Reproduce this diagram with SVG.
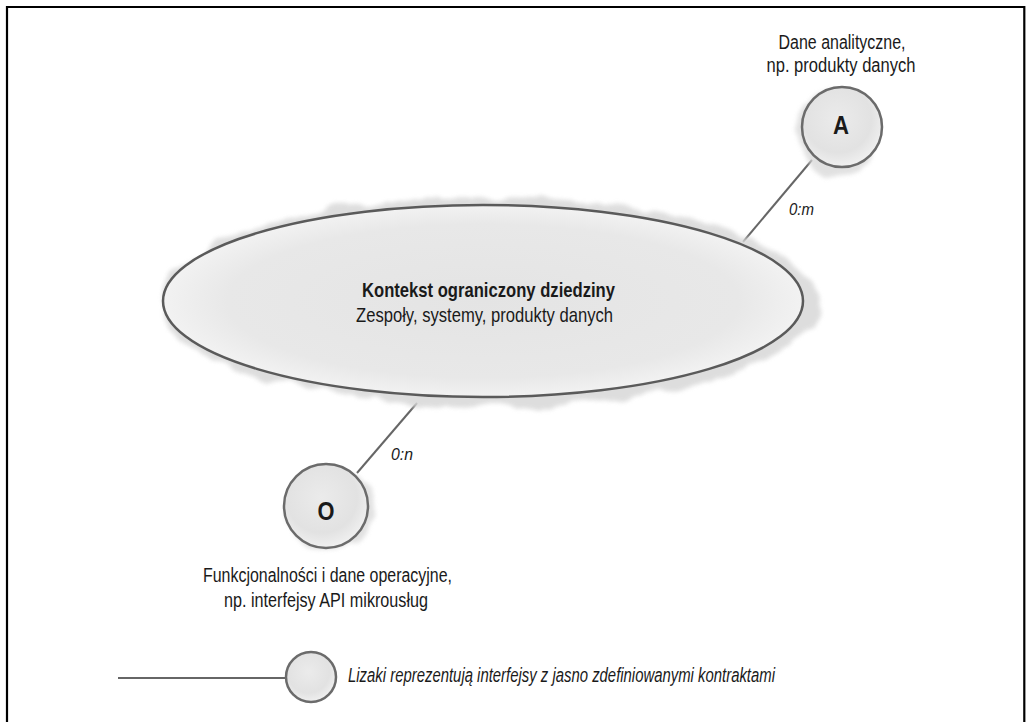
<svg xmlns="http://www.w3.org/2000/svg" width="1026" height="722" viewBox="0 0 1026 722">
  <style>
    .t { font-family: "Liberation Sans", "Open Sans", sans-serif; fill: #1a1a1a; }
    .lbl { font-size: 20px; }
    .title { font-size: 21px; font-weight: bold; }
    .sub { font-size: 21px; }
    .it { font-style: italic; font-size: 17px; }
    .leg { font-style: italic; font-size: 20px; }
    .letter { font-size: 26px; font-weight: bold; }
    .conn { stroke: #666; stroke-width: 2; fill: none; }
    .lolli { fill: url(#cg); stroke: #6b6b6b; stroke-width: 2.5; }
    .halo { fill: #d8d8d8; filter: url(#rough); }
  </style>
  <defs>
    <radialGradient id="eg" cx="50%" cy="50%" r="50%">
      <stop offset="0" stop-color="#e4e4e4"/>
      <stop offset="0.8" stop-color="#e8e8e8"/>
      <stop offset="1" stop-color="#f2f2f2"/>
    </radialGradient>
    <radialGradient id="cg" cx="45%" cy="40%" r="60%">
      <stop offset="0" stop-color="#ebebeb"/>
      <stop offset="0.7" stop-color="#e2e2e2"/>
      <stop offset="1" stop-color="#f0f0f0"/>
    </radialGradient>
    <filter id="rough" x="-10%" y="-25%" width="120%" height="150%">
      <feTurbulence type="fractalNoise" baseFrequency="0.025" numOctaves="3" seed="7" result="n"/>
      <feDisplacementMap in="SourceGraphic" in2="n" scale="18" xChannelSelector="R" yChannelSelector="G" result="d"/>
      <feGaussianBlur in="d" stdDeviation="2"/>
    </filter>
  </defs>

  <rect x="0" y="0" width="1026" height="722" fill="#ffffff"/>
  <path d="M7,722 V7 H1024.3 V722" fill="none" stroke="#000" stroke-width="2.2"/>

  <g id="connectors">
    <line class="conn" x1="812" y1="160" x2="743" y2="242"/>
    <line class="conn" x1="357" y1="473" x2="417" y2="403"/>
    <line class="conn" x1="118" y1="678" x2="286" y2="678"/>
    <text class="t it" x="789" y="215" textLength="25" lengthAdjust="spacingAndGlyphs">0:m</text>
    <text class="t it" x="391" y="460" textLength="22" lengthAdjust="spacingAndGlyphs">0:n</text>
  </g>

  <g id="context">
    <ellipse class="halo" cx="489" cy="302" rx="329" ry="105" opacity="0.85"/>
    <ellipse cx="483" cy="301" rx="320" ry="96" fill="url(#eg)" stroke="#5a5a5a" stroke-width="2.5"/>
    <text class="t title" x="488.5" y="297" text-anchor="middle" textLength="253" lengthAdjust="spacingAndGlyphs">Kontekst ograniczony dziedziny</text>
    <text class="t sub" x="484.5" y="322" text-anchor="middle" textLength="257" lengthAdjust="spacingAndGlyphs">Zespoły, systemy, produkty danych</text>
  </g>

  <g id="node-A">
    <circle class="halo" cx="836" cy="133" r="41" opacity="0.75"/>
    <circle class="lolli" cx="842" cy="127" r="40"/>
    <text class="t letter" x="841" y="134" text-anchor="middle" textLength="16" lengthAdjust="spacingAndGlyphs">A</text>
    <text class="t lbl" x="842" y="49" text-anchor="middle" textLength="127" lengthAdjust="spacingAndGlyphs">Dane analityczne,</text>
    <text class="t lbl" x="841" y="72" text-anchor="middle" textLength="149" lengthAdjust="spacingAndGlyphs">np. produkty danych</text>
  </g>

  <g id="node-O">
    <circle class="halo" cx="331" cy="510" r="43" opacity="0.75"/>
    <circle class="lolli" cx="326" cy="506" r="42"/>
    <text class="t letter" x="326" y="520" text-anchor="middle" textLength="17" lengthAdjust="spacingAndGlyphs">O</text>
    <text class="t lbl" x="327.5" y="582" text-anchor="middle" textLength="249" lengthAdjust="spacingAndGlyphs">Funkcjonalności i dane operacyjne,</text>
    <text class="t lbl" x="326" y="607" text-anchor="middle" textLength="204" lengthAdjust="spacingAndGlyphs">np. interfejsy API mikrousług</text>
  </g>

  <g id="legend">
    <circle class="lolli" cx="311" cy="677" r="25"/>
    <text class="t leg" x="348" y="682" textLength="427" lengthAdjust="spacingAndGlyphs">Lizaki reprezentują interfejsy z jasno zdefiniowanymi kontraktami</text>
  </g>
</svg>
